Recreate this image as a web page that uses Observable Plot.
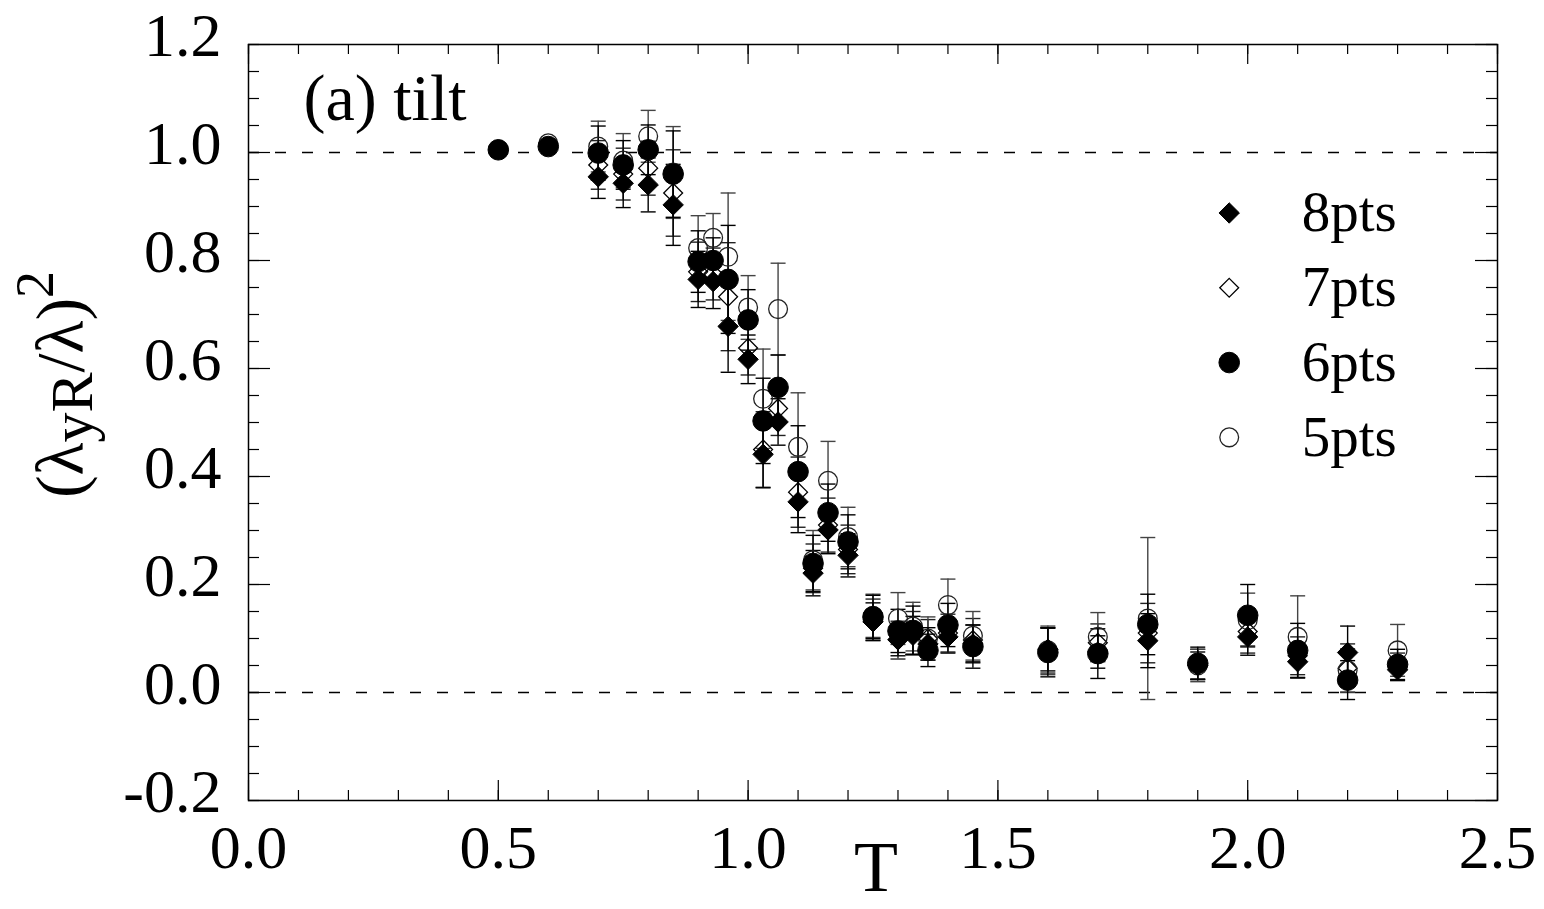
<!DOCTYPE html>
<html><head><meta charset="utf-8">
<script src="https://cdn.jsdelivr.net/npm/d3@7"></script>
<script src="https://cdn.jsdelivr.net/npm/@observablehq/plot@0.6"></script>
<style>body{margin:0;background:#fff;} #chart svg{display:block;}</style>
</head><body><div id="chart"></div>
<script>
// ---- data ----
const T = [0.5,0.6,0.7,0.75,0.8,0.85,0.9,0.93,0.96,1.0,1.03,1.06,1.1,1.13,1.16,1.2,1.25,1.3,1.33,1.36,1.4,1.45,1.6,1.7,1.8,1.9,2.0,2.1,2.2,2.3];
const pts8 = [null,null,0.955,0.943,0.940,0.903,0.765,0.761,0.678,0.617,0.441,0.501,0.353,0.221,0.301,0.254,0.131,0.098,0.106,0.090,0.103,0.090,0.080,0.075,0.096,0.050,0.103,0.057,0.074,0.042];
const err8 = [null,null,0.040,0.045,0.050,0.075,0.052,0.050,0.085,0.045,0.062,0.043,0.057,0.042,0.044,0.040,0.035,0.030,0.035,0.030,0.030,0.035,0.040,0.030,0.050,0.025,0.034,0.030,0.049,0.020];
const pts7 = [null,null,0.977,0.960,0.971,0.925,0.779,0.775,0.733,0.638,0.450,0.526,0.371,0.230,0.310,0.265,0.135,0.097,0.110,0.100,0.110,0.097,0.078,0.092,0.110,0.052,0.113,0.068,0.045,0.048];
const err7 = [null,null,0.045,0.048,0.050,0.080,0.055,0.048,0.100,0.050,0.070,0.050,0.065,0.045,0.050,0.045,0.038,0.035,0.040,0.035,0.035,0.040,0.042,0.035,0.055,0.028,0.040,0.035,0.045,0.025];
const pts6 = [1.005,1.011,0.999,0.977,1.005,0.960,0.798,0.800,0.765,0.690,0.503,0.565,0.409,0.239,0.333,0.279,0.140,0.114,0.115,0.078,0.125,0.085,0.074,0.072,0.126,0.054,0.143,0.078,0.023,0.052];
const err6 = [0.004,0.005,0.050,0.045,0.046,0.080,0.057,0.042,0.100,0.056,0.079,0.060,0.085,0.052,0.053,0.050,0.040,0.040,0.045,0.030,0.040,0.040,0.045,0.046,0.056,0.030,0.057,0.050,0.036,0.028];
const pts5 = [1.005,1.017,1.011,0.985,1.030,0.963,0.823,0.842,0.807,0.713,0.544,0.710,0.455,0.245,0.392,0.288,0.142,0.137,0.122,0.100,0.162,0.105,0.078,0.103,0.137,0.050,0.134,0.103,0.041,0.078];
const err5 = [0.004,0.005,0.047,0.050,0.048,0.085,0.060,0.045,0.118,0.059,0.092,0.085,0.100,0.055,0.073,0.055,0.040,0.048,0.045,0.040,0.048,0.045,0.045,0.045,0.150,0.030,0.050,0.076,0.040,0.048];
const seriesNames = ["8pts","7pts","6pts","5pts"];
const xMajorTicks = [0.0,0.5,1.0,1.5,2.0,2.5];
const yMajorTicks = [-0.2,0.0,0.2,0.4,0.6,0.8,1.0,1.2];
const refLines = [0.0,1.0];
const panelLabel = "(a) tilt";
const xLabel = "T";
const yLabelParts = [["(λ","n"],["yR","sub"],["/λ)","n"],["2","sup"]];

// ---- layout ----
const W = 1544, H = 909, mL = 248, mR = 47, mT = 44, mB = 109;
const plotH = H - mT - mB, plotW = W - mL - mR;
const xMinorTicks = d3.range(0, 2.5001, 0.1);
const yMinorTicks = d3.range(-0.2, 1.2001, 0.05);

const rows = (vals, errs, s) => T.map((t,i)=>({T:t, v:vals[i], e:errs[i], s})).filter(d=>d.v!=null);
const d8 = rows(pts8, err8, "8pts"), d7 = rows(pts7, err7, "7pts"), d6 = rows(pts6, err6, "6pts"), d5 = rows(pts5, err5, "5pts");

const capSym = {draw(ctx, size){ const r = Math.sqrt(size/Math.PI); ctx.moveTo(-r,0); ctx.lineTo(r,0); }};
const styles = {
  "8pts": {symbol:"diamond2", r:9.2, fill:"black", stroke:"black", strokeWidth:1},
  "7pts": {symbol:"diamond2", r:8.5, fill:"none", stroke:"black", strokeWidth:1.3},
  "6pts": {symbol:"circle", r:10.3, fill:"black", stroke:"black", strokeWidth:1},
  "5pts": {symbol:"circle", r:9.4, fill:"none", stroke:"#222", strokeWidth:1.3}
};
const errColor = {"8pts":"black","7pts":"#222","6pts":"black","5pts":"#444"};

function errMarks(data){
  const s = data[0].s, c = errColor[s];
  return [
    Plot.ruleX(data, {x:"T", y1:d=>d.v-d.e, y2:d=>d.v+d.e, stroke:c, strokeWidth:1.4}),
    Plot.dot(data, {x:"T", y:d=>d.v+d.e, symbol:capSym, r:7.5, fill:"none", stroke:c, strokeWidth:1.4}),
    Plot.dot(data, {x:"T", y:d=>d.v-d.e, symbol:capSym, r:7.5, fill:"none", stroke:c, strokeWidth:1.4})
  ];
}
const markerMark = (data) => Plot.dot(data, {x:"T", y:"v", ...styles[data[0].s]});

// legend (positions in data space)
const legX = 1.963, legTextX = 2.108, legTop = 0.888, legStep = 0.1385;
const legendData = seriesNames.map((s,i)=>({s, x:legX, tx:legTextX, y:legTop - i*legStep}));

const fontFam = "Liberation Serif, Times New Roman, serif";

const chart = Plot.plot({
  width: W, height: H,
  marginLeft: mL, marginRight: mR, marginTop: mT, marginBottom: mB,
  x: {domain:[0,2.5]},
  y: {domain:[-0.2,1.2]},
  style: {fontFamily: fontFam, background:"white", overflow:"visible"},
  marks: [
    Plot.ruleY(refLines, {y:d=>d, stroke:"black", strokeWidth:1.3, strokeDasharray:"11,16"}),
    // ticks (inward, mirrored)
    Plot.ruleX(xMinorTicks, {x:d=>d, insetTop: plotH-10, stroke:"black", strokeWidth:1.2}),
    Plot.ruleX(xMajorTicks, {x:d=>d, insetTop: plotH-20, stroke:"black", strokeWidth:1.2}),
    Plot.ruleX(xMinorTicks, {x:d=>d, insetBottom: plotH-10, stroke:"black", strokeWidth:1.2}),
    Plot.ruleX(xMajorTicks, {x:d=>d, insetBottom: plotH-20, stroke:"black", strokeWidth:1.2}),
    Plot.ruleY(yMinorTicks, {y:d=>d, insetRight: plotW-11, stroke:"black", strokeWidth:1.2}),
    Plot.ruleY(yMajorTicks, {y:d=>d, insetRight: plotW-22, stroke:"black", strokeWidth:1.2}),
    Plot.ruleY(yMinorTicks, {y:d=>d, insetLeft: plotW-11, stroke:"black", strokeWidth:1.2}),
    Plot.ruleY(yMajorTicks, {y:d=>d, insetLeft: plotW-22, stroke:"black", strokeWidth:1.2}),
    Plot.frame({stroke:"black", strokeWidth:1.5}),
    Plot.axisX({ticks:xMajorTicks, tickSize:0, tickPadding:23, fontSize:62, tickFormat:d=>d.toFixed(1), label:null, fill:"black"}),
    Plot.axisY({ticks:yMajorTicks, tickSize:0, tickPadding:27, fontSize:62, dy:-8, tickFormat:d=>d.toFixed(1), label:null, fill:"black"}),
    // error bars
    ...errMarks(d7), ...errMarks(d5), ...errMarks(d8), ...errMarks(d6),
    // markers
    markerMark(d7), markerMark(d5), markerMark(d8), markerMark(d6),
    // legend
    ...legendData.map(d => Plot.dot([d], {x:"x", y:"y", ...styles[d.s]})),
    Plot.text(legendData, {x:"tx", y:"y", text:"s", textAnchor:"start", lineAnchor:"middle", fontSize:57, fill:"black"}),
    // labels
    Plot.text([panelLabel], {frameAnchor:"top-left", text:d=>d, textAnchor:"start", lineAnchor:"bottom", dx:55, dy:75, fontSize:66, fill:"black"}),
    Plot.text([xLabel], {frameAnchor:"bottom", text:d=>d, textAnchor:"middle", lineAnchor:"bottom", dx:3, dy:90, fontSize:72, fill:"black"}),
    Plot.text([yLabelParts.map(p=>p[0]).join("")], {frameAnchor:"left", text:d=>d, rotate:-90, textAnchor:"middle", lineAnchor:"bottom", dx:-166, dy:-38, fontSize:68, fill:"black"})
  ]
});

// rich y label: subscript / superscript
const yPlain = yLabelParts.map(p=>p[0]).join("");
d3.select(chart).selectAll("text").filter(function(){ return this.textContent === yPlain; }).each(function(){
  const el = d3.select(this);
  el.text(null);
  let shift = 0;
  for (const [t, kind] of yLabelParts) {
    const target = kind === "sub" ? 9 : kind === "sup" ? -30 : 0;
    const ts = el.append("tspan").text(t).attr("dy", target - shift);
    if (kind === "sub") ts.attr("font-size", 60);
    if (kind === "sup") ts.attr("font-size", 54);
    shift = target;
  }
});

document.getElementById("chart").appendChild(chart);
</script>
</body></html>
